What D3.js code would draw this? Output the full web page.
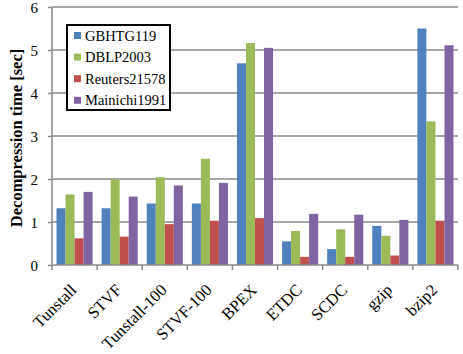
<!DOCTYPE html>
<html><head><meta charset="utf-8">
<script src="https://cdn.jsdelivr.net/npm/d3@7"></script>
<style>body{margin:0;background:#fff}svg{display:block}</style>
</head><body>
<svg id="c" width="463" height="354" style="font-family:'Liberation Serif',serif"></svg>
<script>
const categories = ["Tunstall","STVF","Tunstall-100","STVF-100","BPEX","ETDC","SCDC","gzip","bzip2"];
const seriesNames = ["GBHTG119","DBLP2003","Reuters21578","Mainichi1991"];
const GBHTG119 = [1.32,1.32,1.43,1.43,4.69,0.55,0.37,0.91,5.50];
const DBLP2003 = [1.64,1.99,2.04,2.47,5.16,0.79,0.83,0.68,3.34];
const Reuters21578 = [0.62,0.66,0.95,1.03,1.09,0.19,0.19,0.22,1.03];
const Mainichi1991 = [1.70,1.59,1.85,1.91,5.05,1.19,1.17,1.05,5.11];
const colors = ["#4F81BD","#9BBB59","#C0504D","#8064A2"];
const yTicks = [0,1,2,3,4,5,6];
const series = [GBHTG119, DBLP2003, Reuters21578, Mainichi1991];
const FONT = "Liberation Serif";

const svg = d3.select("#c");
const m = {l:52, r:5, t:7, b:89};
const W = 463, H = 354;
const x = d3.scaleBand().domain(categories).range([m.l, W - m.r]).paddingInner(0.2).paddingOuter(0.1);
const xb = d3.scaleBand().domain(categories).range([m.l, W - m.r]);
const y = d3.scaleLinear().domain([0,6]).range([H - m.b, m.t]);
const xs = d3.scaleBand().domain(seriesNames).range([0, x.bandwidth()]);

// gridlines
svg.append("g").selectAll("line").data(yTicks.filter(d=>d>0)).join("line")
  .attr("x1", m.l).attr("x2", W - m.r).attr("y1", d=>y(d)).attr("y2", d=>y(d))
  .attr("stroke", "#8a8a8a").attr("stroke-width", 1.5);

// bars
series.forEach((s, i) => {
  svg.append("g").selectAll("rect").data(s).join("rect")
    .attr("x", (d, j) => x(categories[j]) + xs(seriesNames[i]))
    .attr("width", xs.bandwidth())
    .attr("y", d => y(d))
    .attr("height", d => y(0) - y(d))
    .attr("fill", colors[i]);
});

// y axis
const ya = svg.append("g").attr("transform", `translate(${m.l},0)`)
  .call(d3.axisLeft(y).tickValues(yTicks).tickSize(4).tickPadding(10).tickFormat(d3.format("d")));
ya.attr("font-family", null).style("font-family", FONT);
ya.select(".domain").attr("stroke", "#8a8a8a").attr("stroke-width", 1.5).attr("d", `M0,${y(6)}V${y(0)}`);
ya.selectAll(".tick line").attr("stroke", "#8a8a8a").attr("stroke-width", 1.5);
ya.selectAll(".tick text").attr("font-size", 15).attr("fill", "#000").attr("dy", "0.36em").style("font-family", FONT);

// x axis
const xa = svg.append("g").attr("transform", `translate(0,${y(0)})`);
xa.append("line").attr("x1", m.l).attr("x2", W - m.r).attr("stroke", "#8a8a8a").attr("stroke-width", 1.5);
const bounds = categories.map(c => xb(c)).concat([W - m.r]);
xa.selectAll("line.t").data(bounds).join("line").attr("class","t")
  .attr("x1", d=>d).attr("x2", d=>d).attr("y1", 0).attr("y2", 5)
  .attr("stroke", "#8a8a8a").attr("stroke-width", 1.5);
xa.selectAll("text").data(categories).join("text")
  .attr("transform", d => `translate(${xb(d) + xb.bandwidth()/2 + 3},${26}) rotate(-45)`)
  .attr("text-anchor", "end")
  .style("font-family", FONT)
  .attr("font-size", 16.5).text(d => d);

// y label
svg.append("text").attr("transform", `translate(22,${(y(0)+y(6))/2 + 2}) rotate(-90)`)
  .attr("text-anchor", "middle").attr("font-size", 16.5).attr("font-weight", "bold")
  .style("font-family", FONT)
  .text("Decompression time [sec]");

// legend
const lg = svg.append("g").attr("transform", "translate(67,25)");
lg.append("rect").attr("width", 103).attr("height", 85).attr("fill", "#fff").attr("stroke", "#000").attr("stroke-width", 2);
seriesNames.forEach((n, i) => {
  const g = lg.append("g").attr("transform", `translate(7,${10.5 + i*21.6})`);
  g.append("rect").attr("x", 0).attr("y", -3.5).attr("width", 7).attr("height", 7).attr("fill", colors[i]);
  g.append("text").attr("x", 11).attr("dy", "0.35em").attr("font-size", 14.5)
    .style("font-family", FONT).text(n);
});
</script>
</body></html>
